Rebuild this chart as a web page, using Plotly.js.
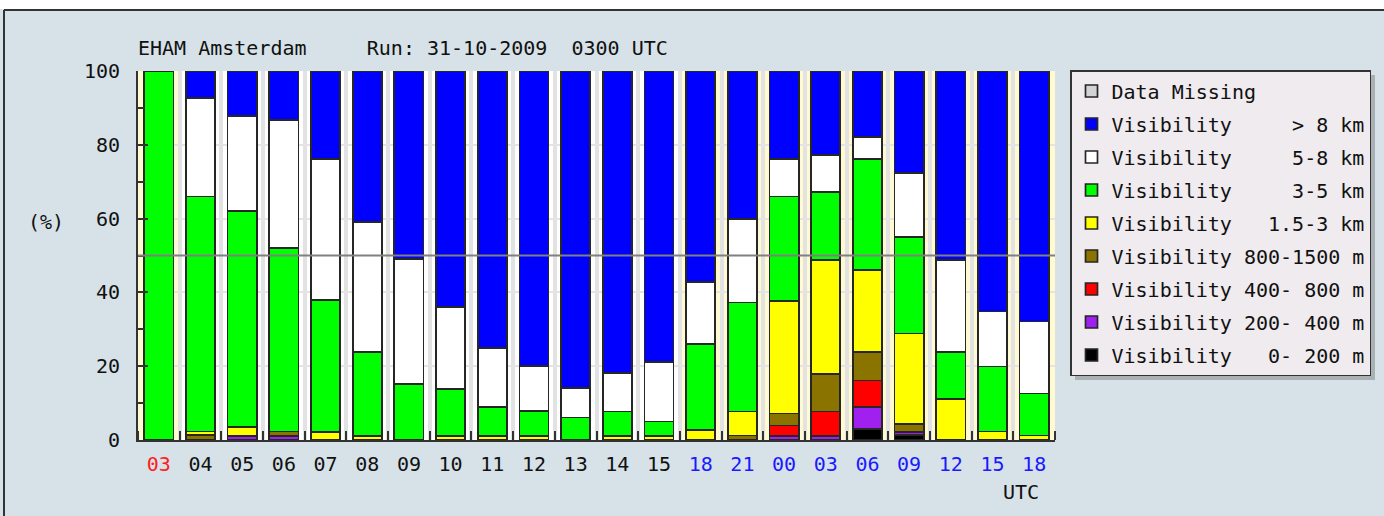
<!DOCTYPE html>
<html><head><meta charset="utf-8">
<script src="https://cdn.plot.ly/plotly-3.0.1.min.js"></script>
<style>html,body{margin:0;padding:0;background:#d6e2e7;overflow:hidden}</style>
</head><body>
<div id="chart" style="width:1384px;height:516px"></div>
<script>
// ---- data (percent of ensemble members per visibility class) ----
const hourLabels = ['03','04','05','06','07','08','09','10','11','12','13','14','15','18','21','00','03','06','09','12','15','18'];
const vis0to200     = [0,0,0,0,0,0,0,0,0,0,0,0,0,0,0,0,0,2.9,1.3,0,0,0];
const vis200to400   = [0,0,1.1,1.1,0,0,0,0,0,0,0,0,0,0,0,1.1,1.1,6.0,0.9,0,0,0];
const vis400to800   = [0,0,0,0,0,0,0,0,0,0,0,0,0,0,0,2.8,6.6,7.2,0,0,0,0];
const vis800to1500  = [0,1.3,0,1.2,0,0,0,0,0,0,0,0,0,0,1.2,3.3,10.1,7.7,2.1,0,0,0];
const vis1500to3000 = [0,1.0,2.5,0,2.2,1.1,0,1.1,1.1,1.1,0,1.1,1.1,2.7,6.5,30.5,31.0,22.3,24.6,11.1,2.3,1.2];
const vis3to5km     = [100,63.7,58.4,49.7,35.7,22.7,15.2,12.7,7.8,6.8,6.1,6.6,3.9,23.3,29.6,28.3,18.4,30.1,26.1,12.8,17.6,11.4];
const vis5to8km     = [0,26.7,25.8,34.7,38.3,35.3,33.8,22.2,16.0,12.1,8.0,10.5,16.1,16.8,22.6,10.2,10.0,5.9,17.4,24.9,14.9,19.5];
const visOver8km    = [0,7.3,12.2,13.3,23.8,40.9,51.0,64.0,75.1,80.0,85.9,81.8,78.9,57.2,40.1,23.8,22.8,17.9,27.6,51.2,65.2,67.9];
const dataMissing   = [0,0,0,0,0,0,0,0,0,0,0,0,0,0,0,0,0,0,0,0,0,0];
const yTicks = [0,20,40,60,80,100];

// ---- layout helpers ----
const W = 1384, H = 516;
const L = 138, R = 1055, T = 71, B = 440;
const px = x => (x - L) / (R - L);
const py = y => (B - y) / (B - T);
const FONT = 'DejaVu Sans Mono, Liberation Mono, monospace';
const NB = '\u00a0';
const sp = n => NB.repeat(n);

const xs = hourLabels.map((_, i) => i);
const tickText = hourLabels.map((h, i) => {
  const c = i === 0 ? '#ff2020' : (i >= 13 ? '#1a1aff' : '#111111');
  return '<span style="color:' + c + '">' + h + '</span>';
});

const series = [
  {name: 'Visibility' + sp(3) + '0-' + NB + '200 m', y: vis0to200, color: '#000000'},
  {name: 'Visibility 200-' + NB + '400 m', y: vis200to400, color: '#a020f0'},
  {name: 'Visibility 400-' + NB + '800 m', y: vis400to800, color: '#ff0000'},
  {name: 'Visibility 800-1500 m', y: vis800to1500, color: '#8b7300'},
  {name: 'Visibility' + sp(3) + '1.5-3 km', y: vis1500to3000, color: '#ffff00'},
  {name: 'Visibility' + sp(5) + '3-5 km', y: vis3to5km, color: '#00ff00'},
  {name: 'Visibility' + sp(5) + '5-8 km', y: vis5to8km, color: '#ffffff'},
  {name: 'Visibility' + sp(5) + '&gt; 8 km', y: visOver8km, color: '#0000ff'},
  {name: 'Data Missing', y: dataMissing, color: '#d3d3d3'}
];

const traces = series.map((s, k) => ({
  type: 'bar', x: xs, y: s.y, name: s.name, legendgroup: 'g' + k,
  legendrank: 100 - k,
  marker: {color: s.color, line: {color: '#262626', width: 1.7}},
  hoverinfo: 'name+y'
}));

const cream = '#fffad2';
const shapes = [
  {type: 'rect', xref: 'x', yref: 'paper', x0: -0.5, x1: 0.5, y0: 0, y1: 1, fillcolor: cream, line: {width: 0}, layer: 'below'},
  {type: 'rect', xref: 'x', yref: 'paper', x0: 12.5, x1: 21.5, y0: 0, y1: 1, fillcolor: cream, line: {width: 0}, layer: 'below'},
  {type: 'line', xref: 'paper', yref: 'y', x0: 0, x1: 1, y0: 50, y1: 50, line: {color: '#808080', width: 2}, layer: 'above'},
  {type: 'rect', xref: 'paper', yref: 'paper', x0: px(0), x1: px(W), y0: py(0), y1: py(9), fillcolor: '#ffffff', line: {width: 0}},
  {type: 'line', xref: 'paper', yref: 'paper', x0: px(4), x1: px(W), y0: py(10), y1: py(10), line: {color: '#333333', width: 2}},
  {type: 'line', xref: 'paper', yref: 'paper', x0: px(4), x1: px(4), y0: py(10), y1: py(H), line: {color: '#333333', width: 2}},
  {type: 'rect', xref: 'paper', yref: 'paper', x0: px(1075), x1: px(1375), y0: py(75), y1: py(380), fillcolor: '#a9b1b5', line: {width: 0}}
];

const layout = {
  width: W, height: H,
  margin: {l: L, r: W - R, t: T, b: H - B, pad: 0},
  paper_bgcolor: '#d6e2e7',
  plot_bgcolor: '#ffffff',
  font: {family: FONT, size: 20, color: '#111111'},
  barmode: 'stack',
  bargap: 0.3,
  showlegend: true,
  xaxis: {
    type: 'linear', range: [-0.5, 21.5], fixedrange: true,
    tickmode: 'array', tickvals: xs, ticktext: tickText,
    ticks: '', showgrid: false, zeroline: false,
    showline: true, linecolor: '#333333', linewidth: 2,
    ticklabelstandoff: 5,
    tickfont: {family: FONT, size: 20},
    minor: {tick0: -0.5, dtick: 1, ticks: 'inside', ticklen: 9, tickwidth: 2, tickcolor: '#333333',
            showgrid: true, gridcolor: '#e2e2e2', gridwidth: 4}
  },
  yaxis: {
    range: [0, 100], fixedrange: true,
    tickmode: 'array', tickvals: yTicks,
    ticks: 'inside', ticklen: 10, tickwidth: 2, tickcolor: '#333333',
    showgrid: true, gridcolor: '#e4e4e4', gridwidth: 2, zeroline: false,
    showline: true, linecolor: '#333333', linewidth: 2,
    ticklabelstandoff: 12,
    tickfont: {family: FONT, size: 20},
    minor: {tick0: 0, dtick: 10, ticks: 'inside', ticklen: 7, tickwidth: 2, tickcolor: '#333333', showgrid: false}
  },
  legend: {
    x: px(1070), xanchor: 'left', y: py(70), yanchor: 'top',
    bgcolor: '#efebee', bordercolor: '#333333', borderwidth: 1.5,
    traceorder: 'grouped', tracegroupgap: 4, maxheight: 400,
    font: {family: FONT, size: 20, color: '#111111'},
    itemclick: false, itemdoubleclick: false
  },
  annotations: [
    {text: 'EHAM Amsterdam' + sp(5) + 'Run: 31-10-2009' + sp(2) + '0300 UTC',
     xref: 'paper', yref: 'paper', x: px(136), xanchor: 'left', y: py(48), yanchor: 'middle', showarrow: false,
     font: {family: FONT, size: 20, color: '#111111'}},
    {text: '(%)', xref: 'paper', yref: 'paper', x: px(46), xanchor: 'center', y: py(222), yanchor: 'middle', showarrow: false,
     font: {family: FONT, size: 20, color: '#111111'}},
    {text: 'UTC', xref: 'paper', yref: 'paper', x: px(1021), xanchor: 'center', y: py(492), yanchor: 'middle', showarrow: false,
     font: {family: FONT, size: 20, color: '#111111'}}
  ],
  shapes: shapes
};

Plotly.newPlot('chart', traces, layout, {displayModeBar: false, staticPlot: true});
</script>
</body></html>
